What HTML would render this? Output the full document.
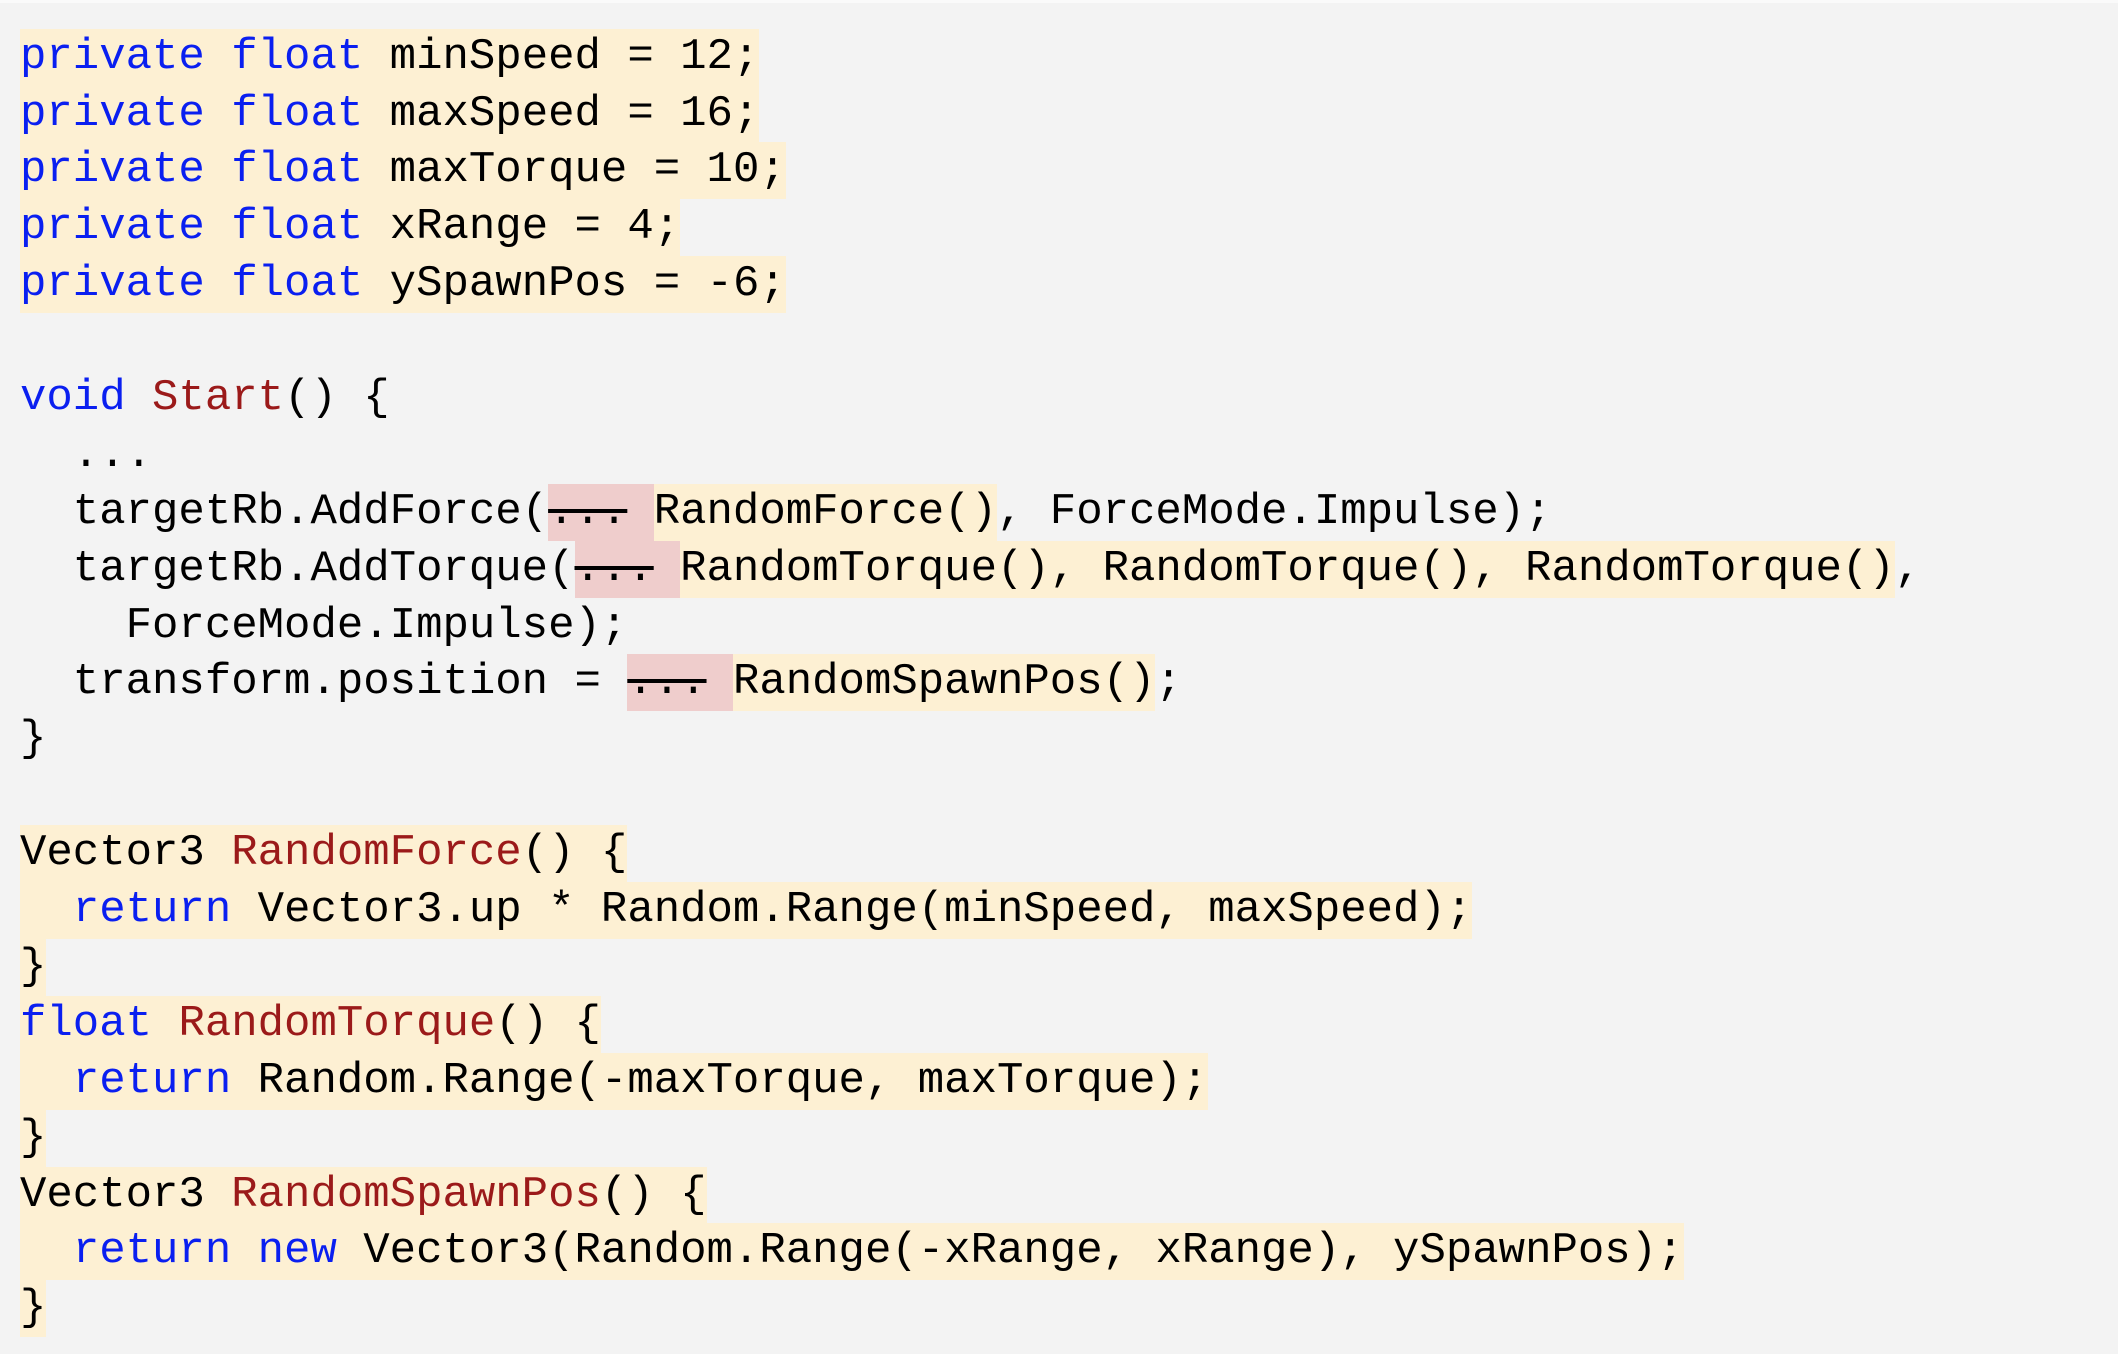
<!DOCTYPE html>
<html><head><meta charset="utf-8"><style>
html,body{margin:0;padding:0}
body{width:2118px;height:1354px;background:#f3f3f3;overflow:hidden;position:relative;border-top:3px solid #fafafa;box-sizing:border-box}
#c{position:absolute;left:20px;top:25.7px;font-family:"Liberation Mono",monospace;font-size:44px;letter-spacing:0;color:#000}
.l{height:56.9px;line-height:56.9px;white-space:pre}
.l span{display:inline-block;height:56.9px;line-height:56.9px;vertical-align:top;white-space:pre}
.y{background:#fdf0d3}
.p{background:#efcdcc}
.s{text-decoration:line-through}
.b{color:#0a1ff0}
.r{color:#9b1a1a}
</style></head><body><div id="c">
<div class="l"><span class="y"><span class="b">private</span> <span class="b">float</span> minSpeed = 12;</span></div>
<div class="l"><span class="y"><span class="b">private</span> <span class="b">float</span> maxSpeed = 16;</span></div>
<div class="l"><span class="y"><span class="b">private</span> <span class="b">float</span> maxTorque = 10;</span></div>
<div class="l"><span class="y"><span class="b">private</span> <span class="b">float</span> xRange = 4;</span></div>
<div class="l"><span class="y"><span class="b">private</span> <span class="b">float</span> ySpawnPos = -6;</span></div>
<div class="l"> </div>
<div class="l"><span class="b">void</span> <span class="r">Start</span>() {</div>
<div class="l">  ...</div>
<div class="l">  targetRb.AddForce(<span class="p"><span class="s">...</span> </span><span class="y">RandomForce()</span>, ForceMode.Impulse);</div>
<div class="l">  targetRb.AddTorque(<span class="p"><span class="s">...</span> </span><span class="y">RandomTorque(), RandomTorque(), RandomTorque()</span>,</div>
<div class="l">    ForceMode.Impulse);</div>
<div class="l">  transform.position = <span class="p"><span class="s">...</span> </span><span class="y">RandomSpawnPos()</span>;</div>
<div class="l">}</div>
<div class="l"> </div>
<div class="l"><span class="y">Vector3 <span class="r">RandomForce</span>() {</span></div>
<div class="l"><span class="y">  <span class="b">return</span> Vector3.up * Random.Range(minSpeed, maxSpeed);</span></div>
<div class="l"><span class="y">}</span></div>
<div class="l"><span class="y"><span class="b">float</span> <span class="r">RandomTorque</span>() {</span></div>
<div class="l"><span class="y">  <span class="b">return</span> Random.Range(-maxTorque, maxTorque);</span></div>
<div class="l"><span class="y">}</span></div>
<div class="l"><span class="y">Vector3 <span class="r">RandomSpawnPos</span>() {</span></div>
<div class="l"><span class="y">  <span class="b">return</span> <span class="b">new</span> Vector3(Random.Range(-xRange, xRange), ySpawnPos);</span></div>
<div class="l"><span class="y">}</span></div>
</div></body></html>
